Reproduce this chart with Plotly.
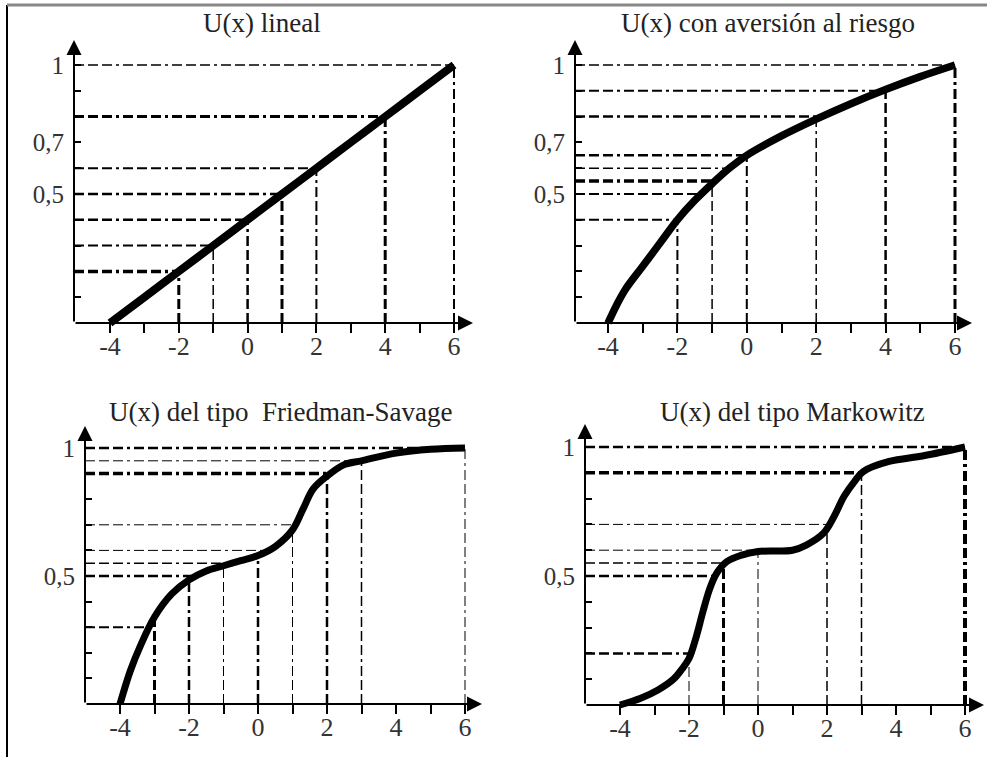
import plotly.graph_objects as go
import numpy as np

W, H = 987, 757

# ---------------- data ----------------
x_ticks = [-4, -3, -2, -1, 0, 1, 2, 3, 4, 5, 6]
x_tick_text = ["-4", "", "-2", "", "0", "", "2", "", "4", "", "6"]
y_ticks = [0.1, 0.2, 0.3, 0.4, 0.5, 0.6, 0.7, 0.8, 0.9, 1.0]
y_text_a = ["", "", "", "", "0,5", "", "0,7", "", "", "1"]
y_text_b = ["", "", "", "", "0,5", "", "", "", "", "1"]

titles = ["U(x) lineal", "U(x) con aversión al riesgo",
          "U(x) del tipo  Friedman-Savage", "U(x) del tipo Markowitz"]

# U(x) lineal
lin_x = [-4, -3, -2, -1, 0, 1, 2, 3, 4, 5, 6]
lin_u = [0.0, 0.1, 0.2, 0.3, 0.4, 0.5, 0.6, 0.7, 0.8, 0.9, 1.0]
lin_h = [0.2, 0.3, 0.4, 0.5, 0.6, 0.8, 1.0]
lin_v = [-2, -1, 0, 1, 2, 4, 6]

# U(x) con aversión al riesgo
av_x = [-4, -3.75, -3.5, -3, -2.5, -2, -1.5, -1, -0.5, 0, 1, 2, 3, 4, 5, 6]
av_u = [0.0, 0.07, 0.13, 0.22, 0.31, 0.40, 0.475, 0.54, 0.60, 0.65, 0.725, 0.79, 0.85, 0.905, 0.955, 1.0]
av_h = [0.4, 0.5, 0.55, 0.6, 0.65, 0.8, 0.9, 1.0]
av_v = [-2, -1, 0, 2, 4, 6]

# U(x) Friedman-Savage
fs_x = [-4, -3.7, -3.4, -3, -2.5, -2, -1.5, -1, -0.5, 0, 0.5, 1, 1.3, 1.6, 2, 2.5, 3, 4, 5, 6]
fs_u = [0.0, 0.13, 0.23, 0.34, 0.43, 0.485, 0.52, 0.54, 0.56, 0.58, 0.615, 0.68, 0.76, 0.84,
        0.89, 0.935, 0.95, 0.98, 0.995, 1.0]
fs_h = [0.3, 0.5, 0.55, 0.6, 0.7, 0.9, 0.95, 1.0]
fs_v = [-3, -2, -1, 0, 1, 2, 3, 6]

# U(x) Markowitz
mk_x = [-4, -3.4, -2.9, -2.45, -2.2, -2.0, -1.8, -1.6, -1.4, -1.2, -0.9, -0.5, 0, 1,
        1.4, 1.9, 2.2, 2.5, 2.8, 3.05, 3.8, 4.8, 6]
mk_u = [0.0, 0.026, 0.058, 0.10, 0.14, 0.18, 0.26, 0.36, 0.45, 0.51, 0.556, 0.58, 0.595,
        0.60, 0.62, 0.666, 0.73, 0.81, 0.867, 0.905, 0.944, 0.966, 1.0]
mk_h = [0.2, 0.5, 0.55, 0.6, 0.7, 0.9, 1.0]
mk_v = [-2, -1, 0, 2, 3, 6]

# ---------------- styles / layout geometry (pixels) ----------------
h_widths = [[3.5, 2, 2.5, 2.5, 2, 3, 1.5],
            [2, 2, 3.5, 1.5, 2.5, 2.5, 2, 1.5],
            [2, 2.5, 1.5, 1, 1, 3.5, 1, 2.5],
            [2.5, 2.5, 1.5, 1, 1, 3.5, 2.5]]
v_widths = [[3, 1.5, 2.5, 3, 2, 3, 2],
            [2, 1.5, 2, 1.5, 2.5, 3],
            [3, 2.5, 1, 2.5, 1, 2.5, 1.5, 1],
            [1, 3, 1, 1.5, 1.5, 4]]
curve_w = [8, 7.5, 7, 7]

geom = [  # y-axis px, x=-4 px, x=6 px, x-axis px, y=1 px, arrow right px, arrow top px, title x, title y
    dict(yax=74, pm4=110, p6=454, xax=323, py1=65, xtip=473, ytip=40, tx=262, ty=23),
    dict(yax=575, pm4=608, p6=955, xax=323, py1=65, xtip=972, ytip=40, tx=768, ty=23),
    dict(yax=85, pm4=120, p6=465, xax=704, py1=448, xtip=482, ytip=426, tx=280, ty=412),
    dict(yax=585, pm4=620, p6=965, xax=705, py1=447, xtip=984, ytip=424, tx=792, ty=412),
]

curves = [(lin_x, lin_u, lin_h, lin_v, y_text_a),
          (av_x, av_u, av_h, av_v, y_text_a),
          (fs_x, fs_u, fs_h, fs_v, y_text_b),
          (mk_x, mk_u, mk_h, mk_v, y_text_b)]

DASH = "10px,4px,10px,4px,10px,4px,3px,4px"
FONT = "Liberation Serif, Times New Roman, serif"

fig = go.Figure()
annotations = []
layout_axes = {}

for i, (cx, cu, hl, vl, ytext) in enumerate(curves):
    g = geom[i]
    k = "" if i == 0 else str(i + 1)
    xa, ya = "x" + k, "y" + k
    ppu = (g["p6"] - g["pm4"]) / 10.0
    xr = [-4 - (g["pm4"] - g["yax"]) / ppu, 6 + (g["xtip"] - g["p6"]) / ppu]
    yppu = float(g["xax"] - g["py1"])
    pad = 14
    yr = [-pad / yppu, (g["xax"] - g["ytip"]) / yppu]

    layout_axes["xaxis" + k] = dict(
        domain=[g["yax"] / W, g["xtip"] / W], range=xr, anchor="free",
        position=1 - g["xax"] / H, tickvals=x_ticks, ticktext=x_tick_text,
        ticks="outside", ticklen=9, tickwidth=1.5, tickcolor="black",
        showgrid=False, zeroline=False, showline=False, fixedrange=True,
        ticklabelstandoff=-9,
        tickfont=dict(family=FONT, size=26, color="#333"))
    layout_axes["yaxis" + k] = dict(
        domain=[1 - (g["xax"] + pad) / H, 1 - g["ytip"] / H], range=yr, anchor=xa,
        tickvals=y_ticks, ticktext=ytext, ticks="inside", ticklen=7, tickwidth=1.5,
        tickcolor="black", showgrid=False, zeroline=False, showline=False,
        ticklabelstandoff=9, fixedrange=True,
        tickfont=dict(family=FONT, size=25, color="#333"))

    # horizontal guides: from the y-axis to the curve
    for lvl, w in zip(hl, h_widths[i]):
        xend = float(np.interp(lvl, cu, cx))
        fig.add_trace(go.Scatter(x=[xr[0], xend], y=[lvl, lvl], mode="lines",
                                 line=dict(color="black", width=w, dash=DASH),
                                 xaxis=xa, yaxis=ya, hoverinfo="skip"))
    # vertical guides: from the x-axis up to the curve
    for xv, w in zip(vl, v_widths[i]):
        ytop = float(np.interp(xv, cx, cu))
        fig.add_trace(go.Scatter(x=[xv, xv], y=[0, ytop], mode="lines",
                                 line=dict(color="black", width=w, dash=DASH),
                                 xaxis=xa, yaxis=ya, hoverinfo="skip"))
    # utility curve
    fig.add_trace(go.Scatter(x=cx, y=cu, mode="lines",
                             line=dict(color="black", width=curve_w[i], shape="spline", smoothing=1),
                             xaxis=xa, yaxis=ya, hoverinfo="skip"))

    # axis lines with arrows
    annotations.append(dict(x=xr[1], y=0, ax=xr[0], ay=0, xref=xa, yref=ya, axref=xa, ayref=ya,
                            text="", showarrow=True, arrowhead=2, arrowsize=1.5, arrowwidth=2,
                            arrowcolor="black"))
    annotations.append(dict(x=xr[0], y=yr[1], ax=xr[0], ay=0, xref=xa, yref=ya, axref=xa, ayref=ya,
                            text="", showarrow=True, arrowhead=2, arrowsize=1.5, arrowwidth=2,
                            arrowcolor="black"))
    # title
    annotations.append(dict(x=g["tx"] / W, y=1 - g["ty"] / H, xref="paper", yref="paper",
                            text=titles[i], showarrow=False, xanchor="center", yanchor="middle",
                            font=dict(family=FONT, size=27, color="#222")))

shapes = [
    dict(type="line", xref="paper", yref="paper", x0=7 / W, x1=7 / W, y0=1 - 5 / H, y1=0,
         line=dict(color="black", width=2)),
    dict(type="line", xref="paper", yref="paper", x0=7 / W, x1=1, y0=1 - 5 / H, y1=1 - 5 / H,
         line=dict(color="#888", width=3)),
]

fig.update_layout(width=W, height=H, margin=dict(l=0, r=0, t=0, b=0),
                  paper_bgcolor="white", plot_bgcolor="white", showlegend=False,
                  annotations=annotations, shapes=shapes, **layout_axes)

fig.write_html("out.html", config={"displayModeBar": False},
               post_script="document.body.style.margin='0';document.body.style.overflow='hidden';")
